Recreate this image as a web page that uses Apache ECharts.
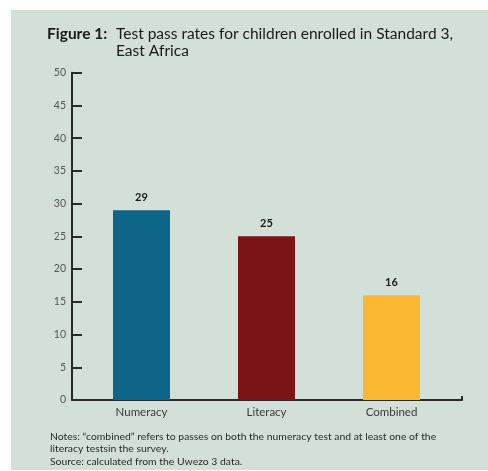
<!DOCTYPE html>
<html>
<head>
<meta charset="utf-8">
<style>html,body{margin:0;padding:0;background:#fff}#c{width:488px;height:471px}</style>
<script src="https://cdn.jsdelivr.net/npm/echarts@6/dist/echarts.min.js"></script>
</head>
<body>
<div id="c"></div>
<script>
const categories = ['Numeracy', 'Literacy', 'Combined'];
const passRates = [29, 25, 16];
const barColors = ['#0d6588', '#7a1416', '#fbb832'];
const yTicks = [0, 5, 10, 15, 20, 25, 30, 35, 40, 45, 50];
const titleLead = 'Figure 1:';
const titleLine1 = 'Test pass rates for children enrolled in Standard 3,';
const titleLine2 = 'East Africa';
const notes = [
  'Notes: \u201ccombined\u201d refers to passes on both the numeracy test and at least one of the',
  'literacy testsin the survey.',
  'Source: calculated from the Uwezo 3 data.'
];

const chart = echarts.init(document.getElementById('c'));
const F = 'Lato, "Open Sans", sans-serif';
chart.setOption({
  animation: false,
  backgroundColor: '#ffffff',
  graphic: [
    { type: 'rect', shape: { x: 11, y: 10, width: 477, height: 460 }, style: { fill: '#d3e0d7' }, z: -10 },
    { type: 'text', left: 47, top: 26, style: { text: titleLead, font: 'bold 15.5px ' + F, fill: '#1a1a1a' } },
    { type: 'text', left: 116, top: 26, style: { text: titleLine1, font: '15.5px ' + F, fill: '#1a1a1a' } },
    { type: 'text', left: 116, top: 43, style: { text: titleLine2, font: '15.5px ' + F, fill: '#1a1a1a' } },
    { type: 'text', left: 50, top: 430, style: { text: notes.join('\n'), font: '10.4px ' + F, fill: '#2a2a2a', lineHeight: 12.5 } }
  ],
  grid: [
    { left: 79, right: 34, top: 72.7, bottom: 71, containLabel: false },
    { left: 72, right: 26, top: 72.7, bottom: 71, containLabel: false }
  ],
  xAxis: [
    {
      type: 'category', data: categories, gridIndex: 0,
      axisLine: { show: false },
      axisTick: { show: false },
      axisLabel: { fontFamily: F, fontSize: 11.5, color: '#3a3a3a', margin: 6 }
    },
    {
      type: 'value', gridIndex: 1, min: 0, max: 1, interval: 1,
      axisLine: { show: true, lineStyle: { color: '#2a2a2a', width: 2 } },
      axisTick: { show: true, inside: true, length: 4, lineStyle: { color: '#2a2a2a', width: 2 } },
      axisLabel: { show: false },
      splitLine: { show: false }
    }
  ],
  yAxis: [
    {
      type: 'value', gridIndex: 0, min: 0, max: 50, interval: 5, offset: 7,
      axisLine: { show: true, lineStyle: { color: '#2a2a2a', width: 2 } },
      axisTick: { show: true, inside: true, length: 10, lineStyle: { color: '#2a2a2a', width: 2 } },
      axisLabel: {
        fontFamily: F, fontSize: 10.5, color: '#555', margin: 6,
        formatter: v => (yTicks.includes(v) ? String(v) : '')
      },
      splitLine: { show: false }
    },
    { type: 'value', gridIndex: 1, show: false, min: 0, max: 1 }
  ],
  series: [{
    type: 'bar', xAxisIndex: 0, yAxisIndex: 0,
    barWidth: 57,
    data: passRates.map((v, i) => ({ value: v, itemStyle: { color: barColors[i] } })),
    label: { show: true, position: 'top', distance: 7, fontFamily: F, fontWeight: 'bold', fontSize: 11, color: '#1a1a1a' }
  }]
});
</script>
</body>
</html>
